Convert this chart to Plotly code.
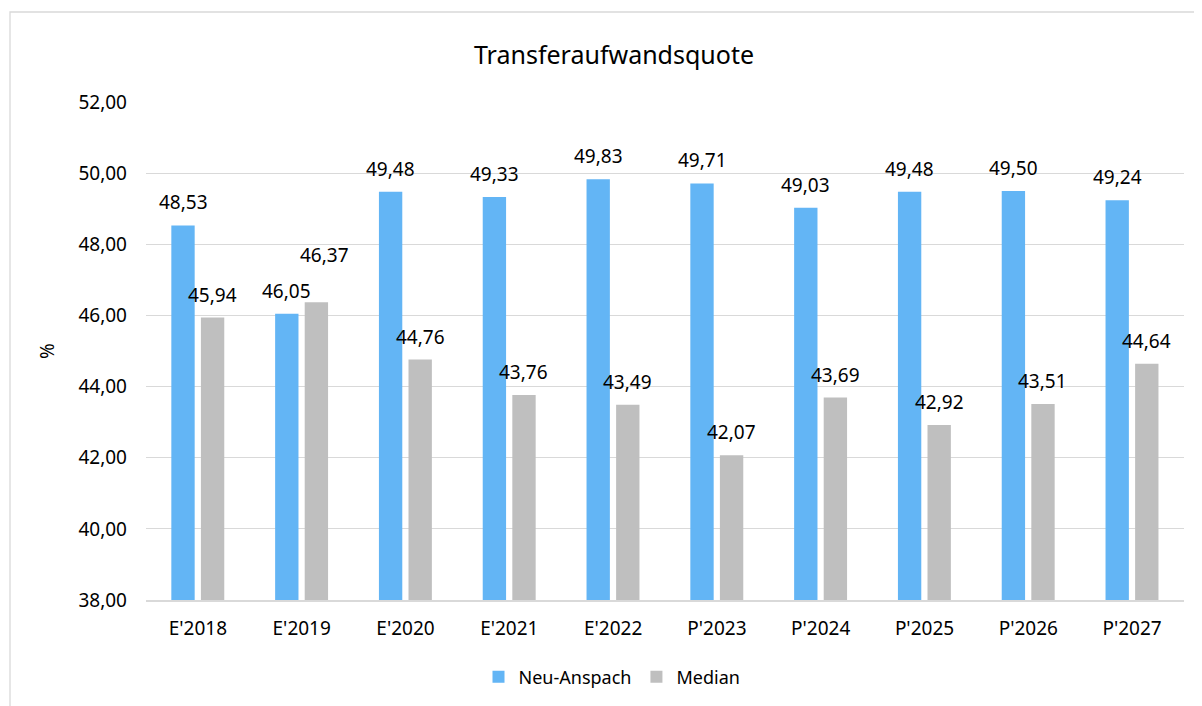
import plotly.graph_objects as go

categories = ["E'2018", "E'2019", "E'2020", "E'2021", "E'2022",
              "P'2023", "P'2024", "P'2025", "P'2026", "P'2027"]
neu_anspach = [48.53, 46.05, 49.48, 49.33, 49.83, 49.71, 49.03, 49.48, 49.50, 49.24]
median = [45.94, 46.37, 44.76, 43.76, 43.49, 42.07, 43.69, 42.92, 43.51, 44.64]

series_names = ["Neu-Anspach", "Median"]
series_colors = ["#63b5f5", "#bfbfbf"]
y_ticks = [38, 40, 42, 44, 46, 48, 50, 52]

FONT = "Noto Sans"
# page has an 8px body margin; figure coordinates are page - 8
W, H = 1194, 698
ML, MR, MT, MB = 138, 18, 94, 106
PW, PH = W - ML - MR, H - MT - MB

bar_w = 0.225
offsets = [-0.256, 0.029]

fig = go.Figure()
for name, vals, col, off in zip(series_names, [neu_anspach, median], series_colors, offsets):
    fig.add_trace(go.Bar(
        x=categories, y=vals, name=name,
        marker=dict(color=col, line=dict(width=0)),
        width=bar_w, offset=off,
    ))

def fmt(v):
    return f"{v:.2f}".replace(".", ",")

# label nudges (Excel moved one overlapping label)
nudges = {(1, 1): (8, 24)}

annotations = []
for s, (vals, off) in enumerate(zip([neu_anspach, median], offsets)):
    for i, v in enumerate(vals):
        dx, dy = nudges.get((s, i), (0, 0))
        annotations.append(dict(
            x=i + off + bar_w / 2, y=v, xref="x", yref="y",
            text=fmt(v), showarrow=False, yanchor="middle", xanchor="center",
            yshift=23 + dy, xshift=dx,
            font=dict(family=FONT, size=19, color="#000000"),
        ))

def px_to_paper_x(px):
    return (px - ML) / PW

def px_to_paper_y(py):
    return (H - MB - py) / PH

shapes = [dict(
    type="rect", xref="paper", yref="paper", layer="below",
    x0=px_to_paper_x(2), x1=px_to_paper_x(1210),
    y0=px_to_paper_y(715), y1=px_to_paper_y(4),
    line=dict(color="#d9d9d9", width=1.3), fillcolor="rgba(0,0,0,0)",
)]

fig.update_layout(
    width=W, height=H,
    margin=dict(l=ML, r=MR, t=MT, b=MB, autoexpand=False),
    paper_bgcolor="white", plot_bgcolor="white",
    font=dict(family=FONT, size=19, color="#000000"),
    title=dict(text="Transferaufwandsquote", x=px_to_paper_x(606), xref="paper", xanchor="center",
               y=1 - 47 / H, yanchor="middle",
               font=dict(family=FONT, size=25, color="#000000")),
    barmode="group",
    showlegend=True,
    legend=dict(orientation="h", x=px_to_paper_x(604), xanchor="center", xref="paper",
                y=px_to_paper_y(669), yanchor="middle",
                font=dict(family=FONT, size=18), itemwidth=30,
                traceorder="normal"),
    annotations=annotations,
    shapes=shapes,
    xaxis=dict(type="category", showgrid=False, showline=True,
               linecolor="#d9d9d9", linewidth=1.5, ticks="",
               tickfont=dict(family=FONT, size=19), ticklabelstandoff=10,
               range=[-0.5, len(categories) - 0.5]),
    yaxis=dict(range=[38, 52], tickvals=y_ticks,
               ticktext=[fmt(t) for t in y_ticks],
               showgrid=True, gridcolor="#d9d9d9", gridwidth=1.3,
               zeroline=False, showline=False, ticks="",
               tickfont=dict(family=FONT, size=19), ticklabelstandoff=18,
               title=dict(text="%", font=dict(family=FONT, size=19), standoff=18)),
)

fig.write_html("out.html")
